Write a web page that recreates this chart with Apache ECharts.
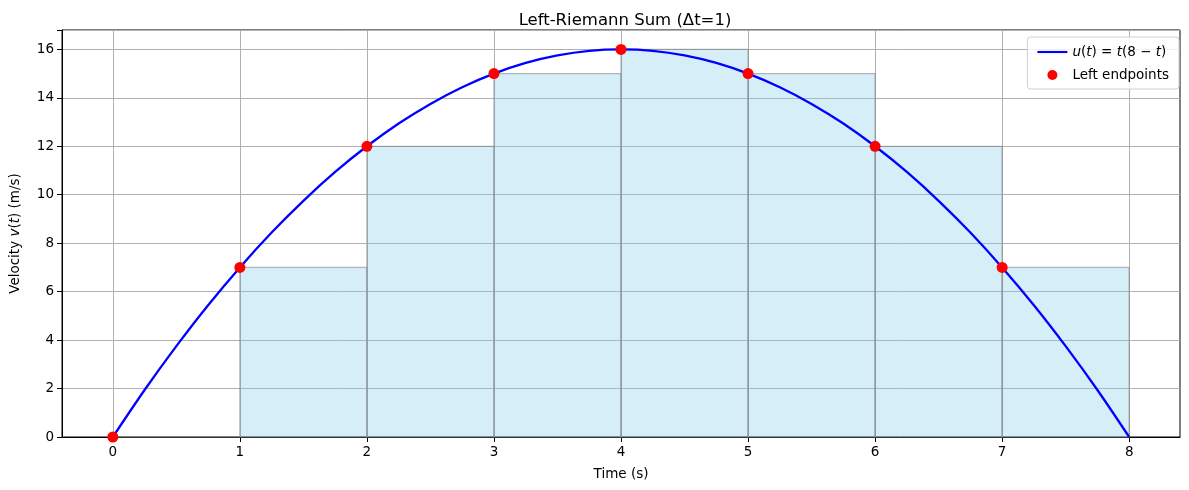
<!DOCTYPE html>
<html>
<head>
<meta charset="utf-8">
<script src="https://cdn.jsdelivr.net/npm/echarts@6/dist/echarts.min.js"></script>
<style>
  html, body { margin: 0; padding: 0; background: #fff; }
  #chart { width: 1189px; height: 490px; }
</style>
</head>
<body>
<div id="chart"></div>
<script>
// curve samples (every 0.25 s)
const curveT = [0, 0.25, 0.5, 0.75, 1, 1.25, 1.5, 1.75, 2, 2.25, 2.5, 2.75, 3, 3.25, 3.5, 3.75, 4,
                4.25, 4.5, 4.75, 5, 5.25, 5.5, 5.75, 6, 6.25, 6.5, 6.75, 7, 7.25, 7.5, 7.75, 8];
const curveV = [0, 1.94, 3.75, 5.44, 7, 8.44, 9.75, 10.94, 12, 12.94, 13.75, 14.44, 15, 15.44, 15.75, 15.94, 16,
                15.94, 15.75, 15.44, 15, 14.44, 13.75, 12.94, 12, 10.94, 9.75, 8.44, 7, 5.44, 3.75, 1.94, 0];

// left endpoints and rectangle heights (dt = 1)
const leftT = [0, 1, 2, 3, 4, 5, 6, 7];
const leftV = [0, 7, 12, 15, 16, 15, 12, 7];
const dt = 1;

const xTicks = [0, 1, 2, 3, 4, 5, 6, 7, 8];

const font = 'DejaVu Sans';
const chart = echarts.init(document.getElementById('chart'));

const richText = (size) => ({
  i: { fontFamily: font, fontSize: size, fontStyle: 'italic', color: '#000' },
  n: { fontFamily: font, fontSize: size, color: '#000' }
});

chart.setOption({
  animation: false,
  textStyle: { fontFamily: font },
  title: {
    text: 'Left-Riemann Sum (Δt=1)',
    left: 620, top: 7, textAlign: 'center',
    textStyle: { fontFamily: font, fontSize: 16.5, fontWeight: 'normal', color: '#000' }
  },
  legend: {
    right: 10, top: 37,
    orient: 'vertical',
    itemGap: 9,
    itemWidth: 30, itemHeight: 10,
    padding: [8, 10, 7, 10],
    borderColor: '#d0d0d0', borderWidth: 1, borderRadius: 3,
    backgroundColor: 'rgba(255,255,255,0.8)',
    textStyle: { fontFamily: font, fontSize: 13.5, color: '#000', rich: richText(13.5) },
    formatter: (name) => name === 'curve'
      ? '{i|u}{n|(}{i|t}{n|) = }{i|t}{n|(8 − }{i|t}{n|)}'
      : name,
    data: [
      { name: 'curve', icon: 'path://M0,5 L28,5 L28,7 L0,7 Z', itemStyle: { color: '#0000ff' } },
      { name: 'Left endpoints', icon: 'circle' }
    ]
  },
  grid: { left: 61, right: 9, top: 30, bottom: 53, show: true, borderColor: '#000', borderWidth: 1, backgroundColor: 'transparent' },
  xAxis: {
    type: 'value',
    min: -0.4, max: 8.4,
    name: 'Time (s)',
    nameLocation: 'middle', nameGap: 30,
    nameTextStyle: { fontFamily: font, fontSize: 13.5, color: '#000' },
    axisLine: { show: true, onZero: false, lineStyle: { color: '#000', width: 1 } },
    axisTick: { show: true, length: 5, customValues: xTicks, lineStyle: { color: '#000' } },
    axisLabel: { customValues: xTicks, fontFamily: font, fontSize: 13.5, color: '#000', margin: 8 },
    splitLine: { show: true, lineStyle: { color: '#b0b0b0', width: 1 } }
  },
  yAxis: {
    type: 'value',
    min: 0, max: 16.8, interval: 2,
    name: '{n|Velocity }{i|v}{n|(}{i|t}{n|) (m/s)}',
    nameLocation: 'middle', nameGap: 40,
    nameTextStyle: { fontFamily: font, fontSize: 13.5, color: '#000', rich: richText(13.5) },
    axisLine: { show: true, onZero: false, lineStyle: { color: '#000', width: 1 } },
    axisTick: { show: true, length: 5, lineStyle: { color: '#000' } },
    axisLabel: {
      fontFamily: font, fontSize: 13.5, color: '#000', margin: 8,
      formatter: (v) => (Math.abs(v - Math.round(v)) < 1e-9 ? String(Math.round(v)) : '')
    },
    splitLine: { show: true, lineStyle: { color: '#b0b0b0', width: 1 } }
  },
  series: [
    {
      name: 'rects',
      type: 'custom',
      z: 2,
      data: leftT.map((t, i) => [t, leftV[i]]),
      renderItem: (params, api) => {
        const t = api.value(0);
        const v = api.value(1);
        const p0 = api.coord([t, 0]);
        const p1 = api.coord([t + dt, v]);
        return {
          type: 'rect',
          shape: { x: p0[0], y: p1[1], width: p1[0] - p0[0], height: p0[1] - p1[1] },
          style: { fill: 'rgba(135,206,235,0.35)', stroke: 'rgba(128,128,128,0.55)', lineWidth: 1.3 }
        };
      }
    },
    {
      name: 'curve',
      type: 'line',
      z: 3,
      data: curveT.map((t, i) => [t, curveV[i]]),
      smooth: 0.3,
      showSymbol: false,
      lineStyle: { color: '#0000ff', width: 2.3 },
      itemStyle: { color: '#0000ff' }
    },
    {
      name: 'Left endpoints',
      type: 'scatter',
      z: 4,
      data: leftT.map((t, i) => [t, leftV[i]]),
      symbolSize: 11,
      itemStyle: { color: '#ff0000', opacity: 1 }
    }
  ]
});
</script>
</body>
</html>
